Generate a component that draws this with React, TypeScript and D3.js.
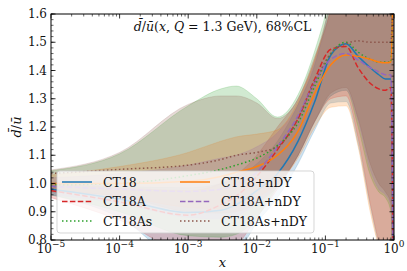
import React from 'react';
import * as d3 from 'd3';

// x grid (momentum fraction)
const xs = [1e-5, 1e-4, 1e-3, 3e-3, 5e-3, 1e-2, 2e-2, 4e-2, 7e-2, 0.12, 0.2, 0.3, 0.45, 0.6, 0.75, 0.9, 0.98];

const names = ['CT18', 'CT18A', 'CT18As', 'CT18+nDY', 'CT18A+nDY', 'CT18As+nDY'];
const colors = ['#1f77b4', '#d62728', '#2ca02c', '#ff7f0e', '#9467bd', '#8c564b'];
const dashes = ['', '5.5,2.4', '1.5,2.5', '', '5.5,2.4', '1.5,2.5'];

// central values
const ct18 = [0.98, 0.945, 0.897, 0.905, 0.925, 0.975, 1.035, 1.15, 1.29, 1.455, 1.495, 1.45, 1.41, 1.385, 1.37, 1.37, 0.6];
const ct18A = [0.975, 0.935, 0.888, 0.925, 0.955, 1.025, 1.12, 1.23, 1.37, 1.475, 1.485, 1.41, 1.355, 1.335, 1.33, 1.34, 0.6];
const ct18As = [0.995, 1.0, 1.028, 1.05, 1.065, 1.09, 1.135, 1.215, 1.345, 1.46, 1.5, 1.465, 1.44, 1.43, 1.43, 1.43, 1.8];
const ct18nDY = [1.0, 1.0, 1.008, 1.025, 1.04, 1.06, 1.1, 1.185, 1.32, 1.42, 1.455, 1.45, 1.44, 1.43, 1.427, 1.43, 1.8];
const ct18AnDY = [0.99, 0.98, 0.972, 0.98, 0.995, 1.04, 1.13, 1.24, 1.36, 1.44, 1.46, 1.437, 1.41, 1.395, 1.385, 1.385, 0.6];
const ct18AsnDY = [1.035, 1.05, 1.065, 1.085, 1.1, 1.11, 1.13, 1.23, 1.36, 1.46, 1.495, 1.505, 1.5, 1.5, 1.5, 1.5, 1.8];

// 68% CL bands
const ct18Lo = [0.96, 0.88, 0.72, 0.72, 0.75, 0.86, 0.95, 1.07, 1.19, 1.285, 1.29, 1.14, 0.92, 0.78, 0.68, 0.6, 0.4];
const ct18Hi = [1.005, 0.99, 0.985, 1.0, 1.02, 1.07, 1.15, 1.28, 1.42, 1.65, 1.9, 2, 2, 2, 2, 2, 2];
const ct18ALo = [0.95, 0.87, 0.76, 0.76, 0.78, 0.88, 0.98, 1.1, 1.22, 1.3, 1.31, 1.16, 0.93, 0.79, 0.68, 0.6, 0.4];
const ct18AHi = [1.0, 0.985, 0.975, 1.0, 1.03, 1.1, 1.2, 1.3, 1.44, 1.65, 1.9, 2, 2, 2, 2, 2, 2];
const ct18AsLo = [0.96, 0.9, 0.815, 0.81, 0.82, 0.88, 0.99, 1.1, 1.22, 1.31, 1.33, 1.2, 1.03, 0.97, 0.95, 0.9, 0.4];
const ct18AsHi = [1.045, 1.105, 1.275, 1.335, 1.345, 1.3, 1.235, 1.315, 1.47, 1.68, 2, 2, 2, 2, 2, 2, 2];
const ct18nDYLo = [0.975, 0.955, 0.915, 0.91, 0.92, 0.95, 1.0, 1.09, 1.2, 1.27, 1.275, 1.13, 0.9, 0.77, 0.66, 0.58, 0.4];
const ct18nDYHi = [1.03, 1.06, 1.11, 1.15, 1.165, 1.175, 1.19, 1.29, 1.44, 1.62, 1.9, 2, 2, 2, 2, 2, 2];
const ct18AnDYLo = [0.96, 0.93, 0.88, 0.875, 0.885, 0.93, 1.0, 1.1, 1.22, 1.31, 1.33, 1.22, 1.05, 0.98, 0.96, 0.92, 0.4];
const ct18AnDYHi = [1.02, 1.035, 1.065, 1.09, 1.1, 1.13, 1.18, 1.28, 1.43, 1.62, 1.9, 2, 2, 2, 2, 2, 2];
const ct18AsnDYLo = [0.97, 0.955, 0.9, 0.895, 0.9, 0.93, 0.99, 1.1, 1.22, 1.32, 1.34, 1.23, 1.07, 1.0, 0.97, 0.93, 0.4];
const ct18AsnDYHi = [1.048, 1.11, 1.28, 1.31, 1.31, 1.285, 1.23, 1.3, 1.45, 1.62, 1.9, 2, 2, 2, 2, 2, 2];

const centrals = [ct18, ct18A, ct18As, ct18nDY, ct18AnDY, ct18AsnDY];
const lows = [ct18Lo, ct18ALo, ct18AsLo, ct18nDYLo, ct18AnDYLo, ct18AsnDYLo];
const highs = [ct18Hi, ct18AHi, ct18AsHi, ct18nDYHi, ct18AnDYHi, ct18AsnDYHi];

const yTicks = [0.8, 0.9, 1.0, 1.1, 1.2, 1.3, 1.4, 1.5, 1.6];
const xTicks = [1e-5, 1e-4, 1e-3, 1e-2, 1e-1, 1];
const xExps = ['−5', '−4', '−3', '−2', '−1', '0'];

const W = 407;
const H = 271;
const margin = { left: 51, right: 13, top: 14, bottom: 31 };
const FONT = 'DejaVu Serif';

const App = () => {
  const x = d3.scaleLog().domain([1e-5, 1]).range([margin.left, W - margin.right]);
  const y = d3.scaleLinear().domain([0.8, 1.6]).range([H - margin.bottom, margin.top]);
  const [x0, x1] = x.range();
  const [yb, yt] = y.range();

  const area = (lo: number[], hi: number[]) =>
    d3.area<number>()
      .x((d, i) => x(xs[i]))
      .y0((d, i) => y(lo[i]))
      .y1((d, i) => y(hi[i]))
      .curve(d3.curveMonotoneX)(xs);

  const line = d3.line<number>()
    .x((d, i) => x(xs[i]))
    .y(d => y(d))
    .curve(d3.curveMonotoneX);

  // minor ticks
  const xMinor: number[] = [];
  for (let e = -5; e < 0; e++) for (let k = 2; k < 10; k++) xMinor.push(k * Math.pow(10, e));
  const yMinor = d3.range(0.8, 1.6001, 0.02);

  const legendY = [182, 201.5, 221];
  const legendCol = [62, 180];

  return (
    <svg width={W} height={H} style={{ position: 'absolute', left: 0, top: 0, background: '#fff' }}>
      <defs>
        <clipPath id="plot">
          <rect x={x0} y={yt} width={x1 - x0} height={yb - yt} />
        </clipPath>
      </defs>
      <g clipPath="url(#plot)">
        {names.map((n, i) => (
          <path key={'b' + n} d={area(lows[i], highs[i]) || ''} fill={colors[i]} fillOpacity={0.22}
            stroke={colors[i]} strokeOpacity={0.22} strokeWidth={0.8} />
        ))}
        {names.map((n, i) => (
          <path key={'l' + n} d={line(centrals[i]) || ''} fill="none" stroke={colors[i]}
            strokeWidth={1.5} strokeDasharray={dashes[i] || undefined} />
        ))}
      </g>

      {/* frame */}
      <rect x={x0} y={yt} width={x1 - x0} height={yb - yt} fill="none" stroke="#000" strokeWidth={1} />

      {/* ticks point inward on all four sides */}
      {xTicks.map(t => (
        <g key={'xt' + t}>
          <line x1={x(t)} x2={x(t)} y1={yb} y2={yb - 4.5} stroke="#000" strokeWidth={0.8} />
          <line x1={x(t)} x2={x(t)} y1={yt} y2={yt + 4.5} stroke="#000" strokeWidth={0.8} />
        </g>
      ))}
      {xMinor.map(t => (
        <g key={'xm' + t}>
          <line x1={x(t)} x2={x(t)} y1={yb} y2={yb - 2.5} stroke="#000" strokeWidth={0.6} />
          <line x1={x(t)} x2={x(t)} y1={yt} y2={yt + 2.5} stroke="#000" strokeWidth={0.6} />
        </g>
      ))}
      {yTicks.map(t => (
        <g key={'yt' + t}>
          <line x1={x0} x2={x0 + 4.5} y1={y(t)} y2={y(t)} stroke="#000" strokeWidth={0.8} />
          <line x1={x1} x2={x1 - 4.5} y1={y(t)} y2={y(t)} stroke="#000" strokeWidth={0.8} />
        </g>
      ))}
      {yMinor.map(t => (
        <g key={'ym' + t}>
          <line x1={x0} x2={x0 + 2.5} y1={y(t)} y2={y(t)} stroke="#000" strokeWidth={0.6} />
          <line x1={x1} x2={x1 - 2.5} y1={y(t)} y2={y(t)} stroke="#000" strokeWidth={0.6} />
        </g>
      ))}

      {/* tick labels */}
      {yTicks.map(t => (
        <text key={'yl' + t} fontFamily={FONT} x={x0 - 4} y={y(t)} dy="0.35em" textAnchor="end" fontSize={12} fill="#111">
          {t.toFixed(1)}
        </text>
      ))}
      {xTicks.map((t, i) => (
        <text key={'xl' + t} fontFamily={FONT} x={x(t)} y={253} textAnchor="middle" fontSize={12} fill="#111">
          10<tspan dy={-6} fontSize={9}>{xExps[i]}</tspan>
        </text>
      ))}

      {/* axis labels */}
      <text fontFamily={FONT} x={(x0 + x1) / 2} y={267} textAnchor="middle" fontSize={13} fontStyle="italic" fill="#111">x</text>
      <text fontFamily={FONT} transform={`translate(21,${(yt + yb) / 2}) rotate(-90)`} textAnchor="middle" fontSize={13} fill="#111">
        <tspan fontStyle="italic">d̄</tspan>/<tspan fontStyle="italic">ū</tspan>
      </text>

      {/* title */}
      <text fontFamily={FONT} x={(x0 + x1) / 2} y={31} textAnchor="middle" fontSize={12.5} fill="#111">
        <tspan fontStyle="italic">d̄</tspan>/<tspan fontStyle="italic">ū</tspan>(<tspan fontStyle="italic">x</tspan>, <tspan fontStyle="italic">Q</tspan> = 1.3 GeV),  68%CL
      </text>

      {/* legend */}
      <rect x={57} y={171} width={257} height={62} rx={3} fill="#fff" fillOpacity={0.8}
        stroke="#ccc" strokeOpacity={0.8} strokeWidth={1} />
      {names.map((n, i) => {
        const lx = legendCol[Math.floor(i / 3)];
        const ly = legendY[i % 3];
        return (
          <g key={'lg' + n}>
            <line x1={lx} x2={lx + 30} y1={ly} y2={ly} stroke={colors[i]} strokeWidth={1.5}
              strokeDasharray={dashes[i] || undefined} />
            <text fontFamily={FONT} x={lx + 41} y={ly + 4.5} fontSize={12.5} fill="#111">{n}</text>
          </g>
        );
      })}
    </svg>
  );
};

export default App;
